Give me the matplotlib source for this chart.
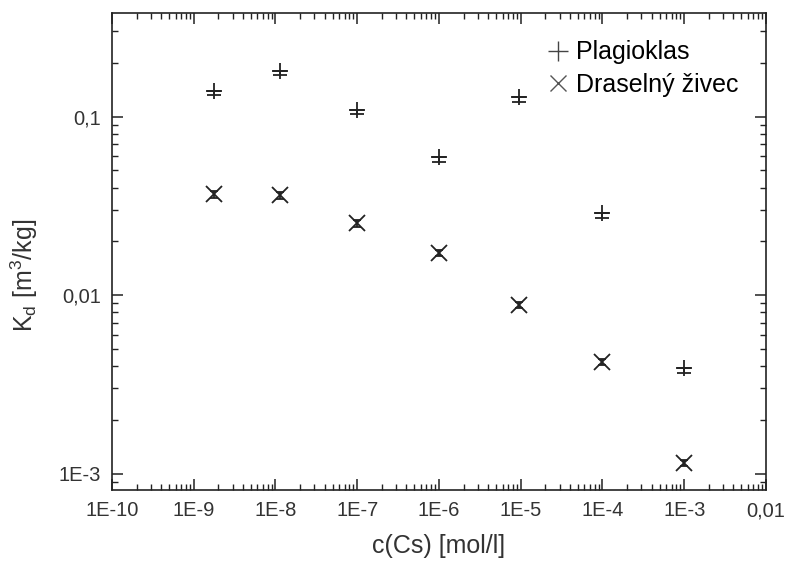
import numpy as np
import matplotlib.pyplot as plt
from matplotlib.lines import Line2D
from matplotlib.ticker import LogLocator, FixedLocator, NullFormatter

plt.rcParams['font.family'] = ['Liberation Sans', 'DejaVu Sans']

# koncentrace Cs [mol/l]
c_plag = [1.75e-9, 1.15e-8, 1.0e-7, 1.0e-6, 9.5e-6, 1.0e-4, 1.0e-3]
c_ziv = [1.75e-9, 1.15e-8, 1.0e-7, 1.0e-6, 9.5e-6, 1.0e-4, 1.0e-3]

# Kd [m3/kg]
kd_plag = [0.139, 0.181, 0.109, 0.059, 0.128, 0.0287, 0.0039]
kd_plag_err_lo = [0.007, 0.010, 0.006, 0.0035, 0.007, 0.0015, 0.00022]
kd_plag_err_hi = [0.0, 0.0, 0.0, 0.0, 0.0, 0.0, 0.0]

kd_ziv = [0.0366, 0.0362, 0.0252, 0.0172, 0.0088, 0.00423, 0.00115]
kd_ziv_err = [0.0015, 0.0015, 0.001, 0.0007, 0.00035, 0.00017, 0.00005]

x_ticks = [1e-10, 1e-9, 1e-8, 1e-7, 1e-6, 1e-5, 1e-4, 1e-3, 1e-2]
x_labels = ['1E-10', '1E-9', '1E-8', '1E-7', '1E-6', '1E-5', '1E-4', '1E-3', '0,01']
y_ticks = [1e-3, 1e-2, 1e-1]
y_labels = ['1E-3', '0,01', '0,1']

fig = plt.figure(figsize=(7.87, 5.65), dpi=100, facecolor='white')
ax = fig.add_axes([0.1423, 0.1327, 0.8310, 0.8443])

ax.errorbar(c_plag, kd_plag, yerr=[kd_plag_err_lo, kd_plag_err_hi],
            fmt='+', color='#222222', ms=12, mew=1.3, elinewidth=1.3,
            capsize=5, capthick=1.3)
ax.errorbar(c_ziv, kd_ziv, yerr=kd_ziv_err,
            fmt='x', color='#222222', ms=11, mew=1.3, elinewidth=1.3,
            capsize=3, capthick=1.3)

ax.set_xscale('log')
ax.set_yscale('log')
ax.set_xlim(1e-10, 1e-2)
ax.set_ylim(8.1e-4, 0.38)

ax.xaxis.set_major_locator(FixedLocator(x_ticks))
ax.set_xticklabels(x_labels)
ax.yaxis.set_major_locator(FixedLocator(y_ticks))
ax.set_yticklabels(y_labels)
ax.xaxis.set_minor_locator(LogLocator(base=10, subs=np.arange(2, 10)))
ax.yaxis.set_minor_locator(LogLocator(base=10, subs=np.arange(2, 10)))
ax.xaxis.set_minor_formatter(NullFormatter())
ax.yaxis.set_minor_formatter(NullFormatter())

ax.tick_params(which='both', direction='in', top=True, right=True,
               colors='#222222', labelcolor='#333333', labelsize=14.5)
ax.tick_params(which='major', length=8, width=1.1, pad=8)
ax.tick_params(which='minor', length=4.5, width=1.0)

for s in ax.spines.values():
    s.set_linewidth(1.2)
    s.set_color('#222222')

ax.set_xlabel('c(Cs) [mol/l]', fontsize=18, color='#333333', labelpad=10)
ax.set_ylabel(r'K$_\mathregular{d}$ [m$^\mathregular{3}$/kg]', fontsize=18,
              color='#333333')
ax.yaxis.set_label_coords(-0.11, 0.45)

# legenda jen se symboly
handles = [
    Line2D([], [], ls='none', marker='+', ms=14, mew=1.0, color='#444444'),
    Line2D([], [], ls='none', marker='x', ms=12, mew=1.0, color='#555555'),
]
ax.legend(handles, ['Plagioklas', 'Draselný živec'], loc='upper right',
          frameon=False, fontsize=18, handlelength=0.8, handletextpad=0.3,
          labelspacing=0.35, borderaxespad=0.5, borderpad=0.6)

fig.savefig('out.png', dpi=100, facecolor='white')
